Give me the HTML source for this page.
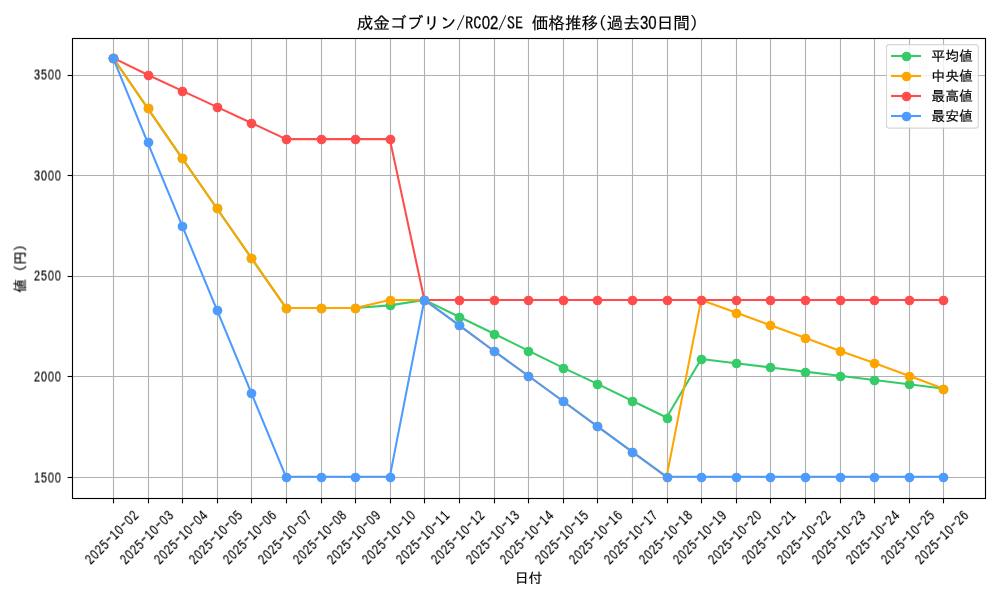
<!DOCTYPE html>
<html lang="ja"><head><meta charset="utf-8"><title>成金ゴブリン/RC02/SE 価格推移(過去30日間)</title>
<style>
html,body{margin:0;padding:0;background:#fff;}
body{width:1000px;height:600px;overflow:hidden;}
svg{display:block;will-change:transform;}
text{fill:#000;stroke:#000;will-change:transform;}
.j{font-family:"IPAGothic","Liberation Sans","Noto Sans CJK JP",sans-serif;stroke-width:0.18px;}
.n{font-family:"Liberation Sans","IPAGothic",sans-serif;stroke-width:0.12px;}
.t{font-size:13.889px;}
.h{font-size:16.667px;}
</style></head><body>
<svg width="1000" height="600" viewBox="0 0 1000 600">
<rect width="1000" height="600" fill="#fff"/>
<g stroke="#b0b0b0" stroke-width="1.11" fill="none">
<line x1="113.5" y1="38.5" x2="113.5" y2="498.5"/>
<line x1="148.5" y1="38.5" x2="148.5" y2="498.5"/>
<line x1="182.5" y1="38.5" x2="182.5" y2="498.5"/>
<line x1="217.5" y1="38.5" x2="217.5" y2="498.5"/>
<line x1="251.5" y1="38.5" x2="251.5" y2="498.5"/>
<line x1="286.5" y1="38.5" x2="286.5" y2="498.5"/>
<line x1="321.5" y1="38.5" x2="321.5" y2="498.5"/>
<line x1="355.5" y1="38.5" x2="355.5" y2="498.5"/>
<line x1="390.5" y1="38.5" x2="390.5" y2="498.5"/>
<line x1="424.5" y1="38.5" x2="424.5" y2="498.5"/>
<line x1="459.5" y1="38.5" x2="459.5" y2="498.5"/>
<line x1="494.5" y1="38.5" x2="494.5" y2="498.5"/>
<line x1="528.5" y1="38.5" x2="528.5" y2="498.5"/>
<line x1="563.5" y1="38.5" x2="563.5" y2="498.5"/>
<line x1="597.5" y1="38.5" x2="597.5" y2="498.5"/>
<line x1="632.5" y1="38.5" x2="632.5" y2="498.5"/>
<line x1="667.5" y1="38.5" x2="667.5" y2="498.5"/>
<line x1="701.5" y1="38.5" x2="701.5" y2="498.5"/>
<line x1="736.5" y1="38.5" x2="736.5" y2="498.5"/>
<line x1="770.5" y1="38.5" x2="770.5" y2="498.5"/>
<line x1="805.5" y1="38.5" x2="805.5" y2="498.5"/>
<line x1="840.5" y1="38.5" x2="840.5" y2="498.5"/>
<line x1="874.5" y1="38.5" x2="874.5" y2="498.5"/>
<line x1="909.5" y1="38.5" x2="909.5" y2="498.5"/>
<line x1="943.5" y1="38.5" x2="943.5" y2="498.5"/>
<line x1="72.5" y1="477.5" x2="985.5" y2="477.5"/>
<line x1="72.5" y1="376.5" x2="985.5" y2="376.5"/>
<line x1="72.5" y1="276.5" x2="985.5" y2="276.5"/>
<line x1="72.5" y1="175.5" x2="985.5" y2="175.5"/>
<line x1="72.5" y1="75.5" x2="985.5" y2="75.5"/>
</g>
<g stroke="#000" stroke-width="1.11" fill="none">
<line x1="113.5" y1="498.5" x2="113.5" y2="503.36"/>
<line x1="148.5" y1="498.5" x2="148.5" y2="503.36"/>
<line x1="182.5" y1="498.5" x2="182.5" y2="503.36"/>
<line x1="217.5" y1="498.5" x2="217.5" y2="503.36"/>
<line x1="251.5" y1="498.5" x2="251.5" y2="503.36"/>
<line x1="286.5" y1="498.5" x2="286.5" y2="503.36"/>
<line x1="321.5" y1="498.5" x2="321.5" y2="503.36"/>
<line x1="355.5" y1="498.5" x2="355.5" y2="503.36"/>
<line x1="390.5" y1="498.5" x2="390.5" y2="503.36"/>
<line x1="424.5" y1="498.5" x2="424.5" y2="503.36"/>
<line x1="459.5" y1="498.5" x2="459.5" y2="503.36"/>
<line x1="494.5" y1="498.5" x2="494.5" y2="503.36"/>
<line x1="528.5" y1="498.5" x2="528.5" y2="503.36"/>
<line x1="563.5" y1="498.5" x2="563.5" y2="503.36"/>
<line x1="597.5" y1="498.5" x2="597.5" y2="503.36"/>
<line x1="632.5" y1="498.5" x2="632.5" y2="503.36"/>
<line x1="667.5" y1="498.5" x2="667.5" y2="503.36"/>
<line x1="701.5" y1="498.5" x2="701.5" y2="503.36"/>
<line x1="736.5" y1="498.5" x2="736.5" y2="503.36"/>
<line x1="770.5" y1="498.5" x2="770.5" y2="503.36"/>
<line x1="805.5" y1="498.5" x2="805.5" y2="503.36"/>
<line x1="840.5" y1="498.5" x2="840.5" y2="503.36"/>
<line x1="874.5" y1="498.5" x2="874.5" y2="503.36"/>
<line x1="909.5" y1="498.5" x2="909.5" y2="503.36"/>
<line x1="943.5" y1="498.5" x2="943.5" y2="503.36"/>
<line x1="67.64" y1="477.5" x2="72.5" y2="477.5"/>
<line x1="67.64" y1="376.5" x2="72.5" y2="376.5"/>
<line x1="67.64" y1="276.5" x2="72.5" y2="276.5"/>
<line x1="67.64" y1="175.5" x2="72.5" y2="175.5"/>
<line x1="67.64" y1="75.5" x2="72.5" y2="75.5"/>
</g>
<polyline points="113.01,57.88 147.61,108.14 182.21,158.40 216.81,208.25 251.41,258.11 286.00,307.96 320.60,307.96 355.20,307.96 389.80,305.35 424.40,299.92 459.00,316.72 493.60,333.52 528.20,350.68 562.80,367.67 597.40,383.93 631.99,400.73 666.59,417.53 701.19,359.03 735.79,363.22 770.39,367.41 804.99,371.61 839.59,375.80 874.19,379.99 908.79,384.18 943.39,388.68" fill="none" stroke="#36cb68" stroke-width="2.08" stroke-linejoin="round" stroke-linecap="square"/>
<g fill="#36cb68">
<circle cx="113.5" cy="58.5" r="4.86"/>
<circle cx="148.5" cy="108.5" r="4.86"/>
<circle cx="182.5" cy="158.5" r="4.86"/>
<circle cx="217.5" cy="208.5" r="4.86"/>
<circle cx="251.5" cy="258.5" r="4.86"/>
<circle cx="286.5" cy="308.5" r="4.86"/>
<circle cx="321.5" cy="308.5" r="4.86"/>
<circle cx="355.5" cy="308.5" r="4.86"/>
<circle cx="390.5" cy="305.5" r="4.86"/>
<circle cx="424.5" cy="300.5" r="4.86"/>
<circle cx="459.5" cy="317.5" r="4.86"/>
<circle cx="494.5" cy="334.5" r="4.86"/>
<circle cx="528.5" cy="351.5" r="4.86"/>
<circle cx="563.5" cy="368.5" r="4.86"/>
<circle cx="597.5" cy="384.5" r="4.86"/>
<circle cx="632.5" cy="401.5" r="4.86"/>
<circle cx="667.5" cy="418.5" r="4.86"/>
<circle cx="701.5" cy="359.5" r="4.86"/>
<circle cx="736.5" cy="363.5" r="4.86"/>
<circle cx="770.5" cy="367.5" r="4.86"/>
<circle cx="805.5" cy="372.5" r="4.86"/>
<circle cx="840.5" cy="376.5" r="4.86"/>
<circle cx="874.5" cy="380.5" r="4.86"/>
<circle cx="909.5" cy="384.5" r="4.86"/>
<circle cx="943.5" cy="389.5" r="4.86"/>
</g>
<polyline points="113.01,57.88 147.61,108.14 182.21,158.40 216.81,208.25 251.41,258.11 286.00,307.96 320.60,307.96 355.20,307.96 389.80,299.92 424.40,299.92 459.00,325.20 493.60,350.78 528.20,375.74 562.80,401.01 597.40,426.29 631.99,451.56 666.59,476.83 701.19,299.92 735.79,312.56 770.39,325.20 804.99,337.83 839.59,350.78 874.19,363.10 908.79,375.74 943.39,388.68" fill="none" stroke="#ffa500" stroke-width="2.08" stroke-linejoin="round" stroke-linecap="square"/>
<g fill="#ffa500">
<circle cx="113.5" cy="58.5" r="4.86"/>
<circle cx="148.5" cy="108.5" r="4.86"/>
<circle cx="182.5" cy="158.5" r="4.86"/>
<circle cx="217.5" cy="208.5" r="4.86"/>
<circle cx="251.5" cy="258.5" r="4.86"/>
<circle cx="286.5" cy="308.5" r="4.86"/>
<circle cx="321.5" cy="308.5" r="4.86"/>
<circle cx="355.5" cy="308.5" r="4.86"/>
<circle cx="390.5" cy="300.5" r="4.86"/>
<circle cx="424.5" cy="300.5" r="4.86"/>
<circle cx="459.5" cy="325.5" r="4.86"/>
<circle cx="494.5" cy="351.5" r="4.86"/>
<circle cx="528.5" cy="376.5" r="4.86"/>
<circle cx="563.5" cy="401.5" r="4.86"/>
<circle cx="597.5" cy="426.5" r="4.86"/>
<circle cx="632.5" cy="452.5" r="4.86"/>
<circle cx="667.5" cy="477.5" r="4.86"/>
<circle cx="701.5" cy="300.5" r="4.86"/>
<circle cx="736.5" cy="313.5" r="4.86"/>
<circle cx="770.5" cy="325.5" r="4.86"/>
<circle cx="805.5" cy="338.5" r="4.86"/>
<circle cx="840.5" cy="351.5" r="4.86"/>
<circle cx="874.5" cy="363.5" r="4.86"/>
<circle cx="909.5" cy="376.5" r="4.86"/>
<circle cx="943.5" cy="389.5" r="4.86"/>
</g>
<polyline points="113.01,57.88 147.61,74.77 182.21,90.85 216.81,106.93 251.41,123.02 286.00,139.10 320.60,139.10 355.20,139.10 389.80,139.10 424.40,299.92 459.00,299.92 493.60,299.92 528.20,299.92 562.80,299.92 597.40,299.92 631.99,299.92 666.59,299.92 701.19,299.92 735.79,299.92 770.39,299.92 804.99,299.92 839.59,299.92 874.19,299.92 908.79,299.92 943.39,299.92" fill="none" stroke="#ff4d4d" stroke-width="2.08" stroke-linejoin="round" stroke-linecap="square"/>
<g fill="#ff4d4d">
<circle cx="113.5" cy="58.5" r="4.86"/>
<circle cx="148.5" cy="75.5" r="4.86"/>
<circle cx="182.5" cy="91.5" r="4.86"/>
<circle cx="217.5" cy="107.5" r="4.86"/>
<circle cx="251.5" cy="123.5" r="4.86"/>
<circle cx="286.5" cy="139.5" r="4.86"/>
<circle cx="321.5" cy="139.5" r="4.86"/>
<circle cx="355.5" cy="139.5" r="4.86"/>
<circle cx="390.5" cy="139.5" r="4.86"/>
<circle cx="424.5" cy="300.5" r="4.86"/>
<circle cx="459.5" cy="300.5" r="4.86"/>
<circle cx="494.5" cy="300.5" r="4.86"/>
<circle cx="528.5" cy="300.5" r="4.86"/>
<circle cx="563.5" cy="300.5" r="4.86"/>
<circle cx="597.5" cy="300.5" r="4.86"/>
<circle cx="632.5" cy="300.5" r="4.86"/>
<circle cx="667.5" cy="300.5" r="4.86"/>
<circle cx="701.5" cy="300.5" r="4.86"/>
<circle cx="736.5" cy="300.5" r="4.86"/>
<circle cx="770.5" cy="300.5" r="4.86"/>
<circle cx="805.5" cy="300.5" r="4.86"/>
<circle cx="840.5" cy="300.5" r="4.86"/>
<circle cx="874.5" cy="300.5" r="4.86"/>
<circle cx="909.5" cy="300.5" r="4.86"/>
<circle cx="943.5" cy="300.5" r="4.86"/>
</g>
<polyline points="113.01,57.88 147.61,142.32 182.21,225.94 216.81,309.57 251.41,393.20 286.00,476.83 320.60,476.83 355.20,476.83 389.80,476.83 424.40,299.92 459.00,325.20 493.60,350.78 528.20,375.74 562.80,401.01 597.40,426.29 631.99,451.56 666.59,476.83 701.19,476.83 735.79,476.83 770.39,476.83 804.99,476.83 839.59,476.83 874.19,476.83 908.79,476.83 943.39,476.83" fill="none" stroke="#4d9bff" stroke-width="2.08" stroke-linejoin="round" stroke-linecap="square"/>
<g fill="#4d9bff">
<circle cx="113.5" cy="58.5" r="4.86"/>
<circle cx="148.5" cy="142.5" r="4.86"/>
<circle cx="182.5" cy="226.5" r="4.86"/>
<circle cx="217.5" cy="310.5" r="4.86"/>
<circle cx="251.5" cy="393.5" r="4.86"/>
<circle cx="286.5" cy="477.5" r="4.86"/>
<circle cx="321.5" cy="477.5" r="4.86"/>
<circle cx="355.5" cy="477.5" r="4.86"/>
<circle cx="390.5" cy="477.5" r="4.86"/>
<circle cx="424.5" cy="300.5" r="4.86"/>
<circle cx="459.5" cy="325.5" r="4.86"/>
<circle cx="494.5" cy="351.5" r="4.86"/>
<circle cx="528.5" cy="376.5" r="4.86"/>
<circle cx="563.5" cy="401.5" r="4.86"/>
<circle cx="597.5" cy="426.5" r="4.86"/>
<circle cx="632.5" cy="452.5" r="4.86"/>
<circle cx="667.5" cy="477.5" r="4.86"/>
<circle cx="701.5" cy="477.5" r="4.86"/>
<circle cx="736.5" cy="477.5" r="4.86"/>
<circle cx="770.5" cy="477.5" r="4.86"/>
<circle cx="805.5" cy="477.5" r="4.86"/>
<circle cx="840.5" cy="477.5" r="4.86"/>
<circle cx="874.5" cy="477.5" r="4.86"/>
<circle cx="909.5" cy="477.5" r="4.86"/>
<circle cx="943.5" cy="477.5" r="4.86"/>
</g>
<rect x="72.5" y="38.5" width="913.0" height="460.00" fill="none" stroke="#000" stroke-width="1.11"/>
<g class="t">
<g transform="translate(61.3,482.1) rotate(0.05) scale(0.8,1.12)"><text class="n" text-anchor="middle" x="-30.38 -21.70 -13.02 -4.34">1500</text></g>
<g transform="translate(61.3,381.1) rotate(0.05) scale(0.8,1.12)"><text class="n" text-anchor="middle" x="-30.38 -21.70 -13.02 -4.34">2000</text></g>
<g transform="translate(61.3,280.1) rotate(0.05) scale(0.8,1.12)"><text class="n" text-anchor="middle" x="-30.38 -21.70 -13.02 -4.34">2500</text></g>
<g transform="translate(61.3,180.1) rotate(0.05) scale(0.8,1.12)"><text class="n" text-anchor="middle" x="-30.38 -21.70 -13.02 -4.34">3000</text></g>
<g transform="translate(61.3,79.1) rotate(0.05) scale(0.8,1.12)"><text class="n" text-anchor="middle" x="-30.38 -21.70 -13.02 -4.34">3500</text></g>
</g>
<g class="t">
<g transform="translate(111.00,536.7) rotate(-45) translate(0,5.3) scale(0.8,1.12)"><text class="n" text-anchor="middle" x="-39.06 -30.38 -21.70 -13.02 -4.34 4.34 13.02 21.70 30.38 39.06">2025<tspan class="j">-</tspan>10<tspan class="j">-</tspan>02</text></g>
<g transform="translate(146.00,536.7) rotate(-45) translate(0,5.3) scale(0.8,1.12)"><text class="n" text-anchor="middle" x="-39.06 -30.38 -21.70 -13.02 -4.34 4.34 13.02 21.70 30.38 39.06">2025<tspan class="j">-</tspan>10<tspan class="j">-</tspan>03</text></g>
<g transform="translate(180.00,536.7) rotate(-45) translate(0,5.3) scale(0.8,1.12)"><text class="n" text-anchor="middle" x="-39.06 -30.38 -21.70 -13.02 -4.34 4.34 13.02 21.70 30.38 39.06">2025<tspan class="j">-</tspan>10<tspan class="j">-</tspan>04</text></g>
<g transform="translate(215.00,536.7) rotate(-45) translate(0,5.3) scale(0.8,1.12)"><text class="n" text-anchor="middle" x="-39.06 -30.38 -21.70 -13.02 -4.34 4.34 13.02 21.70 30.38 39.06">2025<tspan class="j">-</tspan>10<tspan class="j">-</tspan>05</text></g>
<g transform="translate(249.00,536.7) rotate(-45) translate(0,5.3) scale(0.8,1.12)"><text class="n" text-anchor="middle" x="-39.06 -30.38 -21.70 -13.02 -4.34 4.34 13.02 21.70 30.38 39.06">2025<tspan class="j">-</tspan>10<tspan class="j">-</tspan>06</text></g>
<g transform="translate(284.00,536.7) rotate(-45) translate(0,5.3) scale(0.8,1.12)"><text class="n" text-anchor="middle" x="-39.06 -30.38 -21.70 -13.02 -4.34 4.34 13.02 21.70 30.38 39.06">2025<tspan class="j">-</tspan>10<tspan class="j">-</tspan>07</text></g>
<g transform="translate(319.00,536.7) rotate(-45) translate(0,5.3) scale(0.8,1.12)"><text class="n" text-anchor="middle" x="-39.06 -30.38 -21.70 -13.02 -4.34 4.34 13.02 21.70 30.38 39.06">2025<tspan class="j">-</tspan>10<tspan class="j">-</tspan>08</text></g>
<g transform="translate(353.00,536.7) rotate(-45) translate(0,5.3) scale(0.8,1.12)"><text class="n" text-anchor="middle" x="-39.06 -30.38 -21.70 -13.02 -4.34 4.34 13.02 21.70 30.38 39.06">2025<tspan class="j">-</tspan>10<tspan class="j">-</tspan>09</text></g>
<g transform="translate(388.00,536.7) rotate(-45) translate(0,5.3) scale(0.8,1.12)"><text class="n" text-anchor="middle" x="-39.06 -30.38 -21.70 -13.02 -4.34 4.34 13.02 21.70 30.38 39.06">2025<tspan class="j">-</tspan>10<tspan class="j">-</tspan>10</text></g>
<g transform="translate(422.00,536.7) rotate(-45) translate(0,5.3) scale(0.8,1.12)"><text class="n" text-anchor="middle" x="-39.06 -30.38 -21.70 -13.02 -4.34 4.34 13.02 21.70 30.38 39.06">2025<tspan class="j">-</tspan>10<tspan class="j">-</tspan>11</text></g>
<g transform="translate(457.00,536.7) rotate(-45) translate(0,5.3) scale(0.8,1.12)"><text class="n" text-anchor="middle" x="-39.06 -30.38 -21.70 -13.02 -4.34 4.34 13.02 21.70 30.38 39.06">2025<tspan class="j">-</tspan>10<tspan class="j">-</tspan>12</text></g>
<g transform="translate(492.00,536.7) rotate(-45) translate(0,5.3) scale(0.8,1.12)"><text class="n" text-anchor="middle" x="-39.06 -30.38 -21.70 -13.02 -4.34 4.34 13.02 21.70 30.38 39.06">2025<tspan class="j">-</tspan>10<tspan class="j">-</tspan>13</text></g>
<g transform="translate(526.00,536.7) rotate(-45) translate(0,5.3) scale(0.8,1.12)"><text class="n" text-anchor="middle" x="-39.06 -30.38 -21.70 -13.02 -4.34 4.34 13.02 21.70 30.38 39.06">2025<tspan class="j">-</tspan>10<tspan class="j">-</tspan>14</text></g>
<g transform="translate(561.00,536.7) rotate(-45) translate(0,5.3) scale(0.8,1.12)"><text class="n" text-anchor="middle" x="-39.06 -30.38 -21.70 -13.02 -4.34 4.34 13.02 21.70 30.38 39.06">2025<tspan class="j">-</tspan>10<tspan class="j">-</tspan>15</text></g>
<g transform="translate(595.00,536.7) rotate(-45) translate(0,5.3) scale(0.8,1.12)"><text class="n" text-anchor="middle" x="-39.06 -30.38 -21.70 -13.02 -4.34 4.34 13.02 21.70 30.38 39.06">2025<tspan class="j">-</tspan>10<tspan class="j">-</tspan>16</text></g>
<g transform="translate(630.00,536.7) rotate(-45) translate(0,5.3) scale(0.8,1.12)"><text class="n" text-anchor="middle" x="-39.06 -30.38 -21.70 -13.02 -4.34 4.34 13.02 21.70 30.38 39.06">2025<tspan class="j">-</tspan>10<tspan class="j">-</tspan>17</text></g>
<g transform="translate(665.00,536.7) rotate(-45) translate(0,5.3) scale(0.8,1.12)"><text class="n" text-anchor="middle" x="-39.06 -30.38 -21.70 -13.02 -4.34 4.34 13.02 21.70 30.38 39.06">2025<tspan class="j">-</tspan>10<tspan class="j">-</tspan>18</text></g>
<g transform="translate(699.00,536.7) rotate(-45) translate(0,5.3) scale(0.8,1.12)"><text class="n" text-anchor="middle" x="-39.06 -30.38 -21.70 -13.02 -4.34 4.34 13.02 21.70 30.38 39.06">2025<tspan class="j">-</tspan>10<tspan class="j">-</tspan>19</text></g>
<g transform="translate(734.00,536.7) rotate(-45) translate(0,5.3) scale(0.8,1.12)"><text class="n" text-anchor="middle" x="-39.06 -30.38 -21.70 -13.02 -4.34 4.34 13.02 21.70 30.38 39.06">2025<tspan class="j">-</tspan>10<tspan class="j">-</tspan>20</text></g>
<g transform="translate(768.00,536.7) rotate(-45) translate(0,5.3) scale(0.8,1.12)"><text class="n" text-anchor="middle" x="-39.06 -30.38 -21.70 -13.02 -4.34 4.34 13.02 21.70 30.38 39.06">2025<tspan class="j">-</tspan>10<tspan class="j">-</tspan>21</text></g>
<g transform="translate(803.00,536.7) rotate(-45) translate(0,5.3) scale(0.8,1.12)"><text class="n" text-anchor="middle" x="-39.06 -30.38 -21.70 -13.02 -4.34 4.34 13.02 21.70 30.38 39.06">2025<tspan class="j">-</tspan>10<tspan class="j">-</tspan>22</text></g>
<g transform="translate(838.00,536.7) rotate(-45) translate(0,5.3) scale(0.8,1.12)"><text class="n" text-anchor="middle" x="-39.06 -30.38 -21.70 -13.02 -4.34 4.34 13.02 21.70 30.38 39.06">2025<tspan class="j">-</tspan>10<tspan class="j">-</tspan>23</text></g>
<g transform="translate(872.00,536.7) rotate(-45) translate(0,5.3) scale(0.8,1.12)"><text class="n" text-anchor="middle" x="-39.06 -30.38 -21.70 -13.02 -4.34 4.34 13.02 21.70 30.38 39.06">2025<tspan class="j">-</tspan>10<tspan class="j">-</tspan>24</text></g>
<g transform="translate(907.00,536.7) rotate(-45) translate(0,5.3) scale(0.8,1.12)"><text class="n" text-anchor="middle" x="-39.06 -30.38 -21.70 -13.02 -4.34 4.34 13.02 21.70 30.38 39.06">2025<tspan class="j">-</tspan>10<tspan class="j">-</tspan>25</text></g>
<g transform="translate(941.00,536.7) rotate(-45) translate(0,5.3) scale(0.8,1.12)"><text class="n" text-anchor="middle" x="-39.06 -30.38 -21.70 -13.02 -4.34 4.34 13.02 21.70 30.38 39.06">2025<tspan class="j">-</tspan>10<tspan class="j">-</tspan>26</text></g>
</g>
<text class="j t" x="528.60" y="582.6" text-anchor="middle">日付</text>
<text class="j t" transform="translate(20.2,268.50) rotate(-90)" y="4.9" text-anchor="middle">値 (円)</text>
<text class="j h" y="28.6" xml:space="preserve"><tspan x="356.66">成金ゴブリン/RC</tspan><tspan class="n" x="481.67" font-size="18.67" textLength="16.67" lengthAdjust="spacingAndGlyphs" style="stroke-width:0.3px">02</tspan><tspan x="498.33">/SE 価格推移(過去</tspan><tspan class="n" x="640.00" font-size="18.67" textLength="16.67" lengthAdjust="spacingAndGlyphs" style="stroke-width:0.3px">30</tspan><tspan x="656.67">日間)</tspan></text>
<rect x="886.5" y="44.6" width="91.80" height="83.5" rx="2.8" ry="2.8" fill="#fff" fill-opacity="0.8" stroke="#ccc" stroke-opacity="0.8" stroke-width="1.11"/>
<line x1="892.05" y1="56.0" x2="919.95" y2="56.0" stroke="#36cb68" stroke-width="2.08" stroke-linecap="square"/>
<circle cx="906.5" cy="56.5" r="4.86" fill="#36cb68"/>
<text class="j t" x="931.3" y="61.10">平均値</text>
<line x1="892.05" y1="76.0" x2="919.95" y2="76.0" stroke="#ffa500" stroke-width="2.08" stroke-linecap="square"/>
<circle cx="906.5" cy="76.5" r="4.86" fill="#ffa500"/>
<text class="j t" x="931.3" y="81.10">中央値</text>
<line x1="892.05" y1="96.0" x2="919.95" y2="96.0" stroke="#ff4d4d" stroke-width="2.08" stroke-linecap="square"/>
<circle cx="906.5" cy="96.5" r="4.86" fill="#ff4d4d"/>
<text class="j t" x="931.3" y="101.10">最高値</text>
<line x1="892.05" y1="116.0" x2="919.95" y2="116.0" stroke="#4d9bff" stroke-width="2.08" stroke-linecap="square"/>
<circle cx="906.5" cy="116.5" r="4.86" fill="#4d9bff"/>
<text class="j t" x="931.3" y="121.10">最安値</text>
</svg></body></html>
